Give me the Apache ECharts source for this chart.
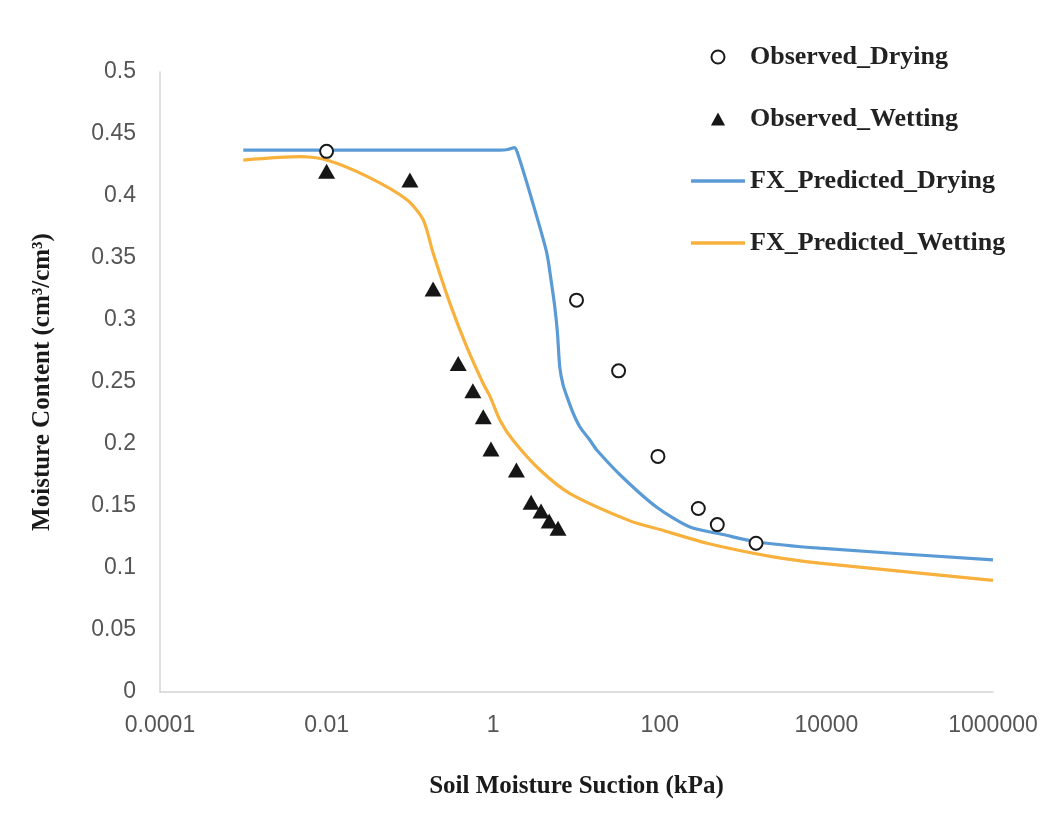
<!DOCTYPE html>
<html>
<head>
<meta charset="utf-8">
<script src="https://cdn.jsdelivr.net/npm/echarts@6/dist/echarts.min.js"></script>
<style>
html,body{margin:0;padding:0;background:#fff;}
#main{width:1054px;height:821px;}
</style>
</head>
<body>
<div id="main"></div>
<script>
// tick labels for the log axis (every 2 decades)
var xTickLabels = ['0.0001', '0.01', '1', '100', '10000', '1000000'];

// observed points  [suction kPa, moisture]
var obsDrying = [[0.01, 0.436], [10, 0.316], [32, 0.259], [95, 0.19], [290, 0.148], [490, 0.135], [1430, 0.12]];
var obsWetting = [[0.01, 0.42], [0.1, 0.413], [0.19, 0.325], [0.38, 0.265], [0.57, 0.243], [0.76, 0.222],
  [0.94, 0.196], [1.9, 0.179], [2.85, 0.153], [3.75, 0.146], [4.7, 0.138], [6.0, 0.132]];

// predicted curves
var predDrying = [[0.001, 0.437], [0.01, 0.437], [1.2, 0.437], [1.5, 0.4375], [1.8, 0.439], [1.95, 0.435],
  [3.0, 0.394], [4.4, 0.354], [5.0, 0.33], [5.5, 0.31], [5.9, 0.29], [6.3, 0.262], [6.9, 0.2476],
  [7.7, 0.238], [9.1, 0.225], [11, 0.2137], [14.5, 0.203], [17.6, 0.195], [36, 0.173], [92, 0.149],
  [230, 0.133], [573, 0.127], [1470, 0.121], [8300, 0.116], [1000000, 0.1065]];
var predWetting = [[0.001, 0.429], [0.0048, 0.4317], [0.01, 0.429], [0.031, 0.4156], [0.092, 0.397],
  [0.144, 0.381], [0.19, 0.354], [0.3, 0.314], [0.48, 0.2785], [0.755, 0.249], [0.92, 0.238],
  [1.21, 0.219], [1.73, 0.203], [3.65, 0.179], [8.36, 0.16], [43.9, 0.138], [100, 0.131],
  [368, 0.12], [2290, 0.109], [8300, 0.104], [1000000, 0.09]];

var chart = echarts.init(document.getElementById('main'));

var lineIcon = 'path://M0,0L54,0L54,3.4L0,3.4Z';

var option = {
  backgroundColor: '#fff',
  animation: false,
  grid: {left: 160, right: 61, top: 72, bottom: 129},
  legend: {
    orient: 'vertical',
    left: 686,
    top: 39,
    itemWidth: 54,
    itemHeight: 13,
    itemGap: 36,
    textStyle: {fontFamily: 'Liberation Serif', fontWeight: 'bold', fontSize: 26, lineHeight: 26, color: '#222'},
    data: [
      {name: 'Observed_Drying', icon: 'circle'},
      {name: 'Observed_Wetting', icon: 'path://M6,0L12,11L0,11Z'},
      {name: 'FX_Predicted_Drying', icon: lineIcon},
      {name: 'FX_Predicted_Wetting', icon: lineIcon}
    ]
  },
  xAxis: {
    type: 'log',
    logBase: 10,
    min: 0.0001,
    max: 1000000,
    splitNumber: 5,
    name: 'Soil Moisture Suction (kPa)',
    nameLocation: 'middle',
    nameGap: 82,
    nameTextStyle: {fontFamily: 'Liberation Serif', fontWeight: 'bold', fontSize: 25, color: '#1a1a1a'},
    axisLine: {lineStyle: {color: '#d4d4d4', width: 1.5}},
    axisTick: {show: false},
    splitLine: {show: false},
    minorTick: {show: false},
    axisLabel: {
      margin: 22,
      fontFamily: 'Liberation Sans',
      fontSize: 23,
      color: '#555',
      formatter: function (v) {
        var e = Math.round(Math.log(v) / Math.LN10);
        return xTickLabels[(e + 4) / 2] || '';
      }
    }
  },
  yAxis: {
    type: 'value',
    min: 0,
    max: 0.5,
    interval: 0.05,
    name: 'Moisture Content (cm³/cm³)',
    nameLocation: 'middle',
    nameGap: 105,
    nameTextStyle: {fontFamily: 'Liberation Serif', fontWeight: 'bold', fontSize: 25, color: '#1a1a1a'},
    axisLine: {show: true, lineStyle: {color: '#d4d4d4', width: 1.5}},
    axisTick: {show: false},
    splitLine: {show: false},
    axisLabel: {margin: 24, fontFamily: 'Liberation Sans', fontSize: 23, color: '#555'}
  },
  series: [
    {
      name: 'Observed_Drying',
      type: 'scatter',
      symbol: 'circle',
      symbolSize: 13,
      z: 5,
      itemStyle: {color: '#fff', borderColor: '#1a1a1a', borderWidth: 2, opacity: 1},
      data: obsDrying
    },
    {
      name: 'Observed_Wetting',
      type: 'scatter',
      symbol: 'triangle',
      symbolSize: [17, 15],
      z: 5,
      itemStyle: {color: '#161616', opacity: 1},
      data: obsWetting
    },
    {
      name: 'FX_Predicted_Drying',
      type: 'line',
      symbol: 'none',
      smooth: 0.25,
      lineStyle: {color: '#5b9bd5', width: 3.2},
      itemStyle: {color: '#5b9bd5'},
      data: predDrying
    },
    {
      name: 'FX_Predicted_Wetting',
      type: 'line',
      symbol: 'none',
      smooth: 0.25,
      lineStyle: {color: '#f7b13c', width: 3.2},
      itemStyle: {color: '#f7b13c'},
      data: predWetting
    }
  ]
};

chart.setOption(option);
</script>
</body>
</html>
